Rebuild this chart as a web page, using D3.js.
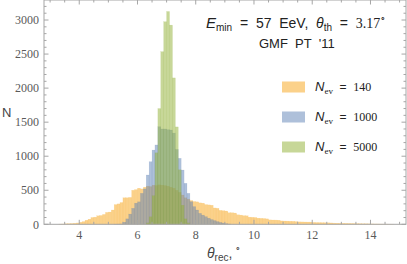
<!DOCTYPE html>
<html>
<head>
<meta charset="utf-8">
<script src="https://cdn.jsdelivr.net/npm/d3@7"></script>
<style>
  body { margin: 0; background: #fff; }
  svg text { white-space: pre; }
</style>
</head>
<body>
<div class="canvas"></div>
<script>
// histogram bins, width 0.1 deg, counts per bin
const binWidth = 0.1;

const orangeStart = 3.3;   // N_ev = 140
const orangeCounts = [3, 5, 8, 10, 12, 15, 20, 30, 40, 60, 75, 100, 105, 125, 130, 145, 175,
  180, 210, 290, 300, 320, 390, 390, 395, 500, 510,
  530, 520, 545, 560, 555, 575, 570, 580, 575, 570,
  560, 545, 530, 500, 470, 430, 390, 370, 350, 335,
  330, 315, 310, 290, 285, 280, 240, 235, 205, 200,
  195, 170, 170, 165, 140, 135, 127, 125, 105, 103,
  100, 90, 88, 85, 80, 65, 63, 62, 60, 50,
  48, 47, 45, 44, 40, 36, 35, 34, 33, 32,
  28, 26, 25, 24, 23, 22, 20, 17, 16, 15,
  15, 14, 13, 12, 11, 10, 9, 8, 8, 7,
  6, 5, 5, 4, 3, 3, 2, 2];

const blueStart = 5.2;     // N_ev = 1000
const blueCounts = [2, 3, 5, 30, 80, 150, 235, 310, 330, 455, 520, 724, 919, 1090, 1165,
  1433, 1400, 1400, 1390, 1385, 1340, 1100, 969, 797, 602, 455, 332, 260, 210, 161,
  135, 112, 90, 70, 55, 40, 28, 18, 10, 5];

const greenStart = 6.3;    // N_ev = 5000
const greenCounts = [20, 110, 420, 1050, 1700, 2535, 2975, 3125, 2925, 2150, 1430, 800, 280, 80, 20];

const seriesNames = ['140', '1000', '5000'];
const seriesColors = ['#f9b23c', '#5e81b5', '#8fb032'];
const seriesOpacity = [0.6, 0.5, 0.5];

const xTicks = [4, 6, 8, 10, 12, 14];
const yTicks = [0, 500, 1000, 1500, 2000, 2500, 3000];

const sans = 'Liberation Sans, Arial, sans-serif';
const serif = 'Liberation Serif, Times New Roman, serif';

const W = 407, H = 264;
const svg = d3.select('.canvas').append('svg')
  .attr('width', W)
  .attr('height', H);

const x = d3.scaleLinear().domain([2.79, 15.22]).range([44, 406]);
const y = d3.scaleLinear().domain([0, 3294]).range([224.3, 0]);

const series = [
  { start: orangeStart, counts: orangeCounts },
  { start: blueStart, counts: blueCounts },
  { start: greenStart, counts: greenCounts }
];

// bars
series.forEach((s, i) => {
  const bins = s.counts.map((c, k) => ({ x0: s.start + k * binWidth, n: c }));
  svg.append('g')
    .selectAll('rect')
    .data(bins)
    .join('rect')
    .attr('x', d => x(d.x0))
    .attr('width', d => x(d.x0 + binWidth) - x(d.x0))
    .attr('y', d => y(d.n))
    .attr('height', d => y(0) - y(d.n))
    .attr('fill', seriesColors[i])
    .attr('fill-opacity', seriesOpacity[i])
    .attr('stroke', seriesColors[i])
    .attr('stroke-opacity', 0.25)
    .attr('stroke-width', 0.4);
});

// frame
const frameCol = '#a6a6a6';
svg.append('rect')
  .attr('x', x.range()[0])
  .attr('y', y.range()[1])
  .attr('width', x.range()[1] - x.range()[0])
  .attr('height', y.range()[0] - y.range()[1])
  .attr('fill', 'none')
  .attr('stroke', frameCol)
  .attr('stroke-width', 1);

// minor ticks
const xMinor = d3.range(3, 15.01, 0.5).filter(v => !xTicks.includes(v));
const yMinor = d3.range(0, 3300, 100).filter(v => v % 500 !== 0);

function tickLines(vals, len, horiz) {
  vals.forEach(v => {
    if (horiz) {
      svg.append('line').attr('x1', x(v)).attr('x2', x(v))
        .attr('y1', y(0)).attr('y2', y(0) - len).attr('stroke', frameCol);
      svg.append('line').attr('x1', x(v)).attr('x2', x(v))
        .attr('y1', 0).attr('y2', len).attr('stroke', frameCol);
    } else {
      svg.append('line').attr('x1', 44).attr('x2', 44 + len)
        .attr('y1', y(v)).attr('y2', y(v)).attr('stroke', frameCol);
      svg.append('line').attr('x1', 406).attr('x2', 406 - len)
        .attr('y1', y(v)).attr('y2', y(v)).attr('stroke', frameCol);
    }
  });
}
tickLines(xTicks, 4.5, true);
tickLines(xMinor, 2.5, true);
tickLines(yTicks, 4.5, false);
tickLines(yMinor, 2.5, false);

// tick labels
svg.append('g').selectAll('text')
  .data(xTicks).join('text')
  .attr('x', d => x(d))
  .attr('y', 238.5)
  .attr('text-anchor', 'middle')
  .attr('font-family', serif)
  .attr('font-size', 12)
  .attr('fill', '#5a5a5a')
  .text(d => d);

svg.append('g').selectAll('text')
  .data(yTicks).join('text')
  .attr('x', 39)
  .attr('y', d => y(d) + 4.2)
  .attr('text-anchor', 'end')
  .attr('font-family', serif)
  .attr('font-size', 12)
  .attr('fill', '#5a5a5a')
  .text(d => d);

// axis labels
svg.append('text')
  .attr('x', 2)
  .attr('y', 117)
  .attr('font-family', sans)
  .attr('font-size', 13)
  .attr('fill', '#444')
  .text('N');

const xl = svg.append('text')
  .attr('x', 207)
  .attr('y', 258)
  .attr('font-family', sans)
  .attr('font-size', 14)
  .attr('fill', '#444');
xl.append('tspan').attr('font-style', 'italic').text('θ');
xl.append('tspan').attr('font-size', 10).attr('dy', 3).text('rec');
xl.append('tspan').attr('dy', -3).text(',');
xl.append('tspan').attr('font-size', 9).attr('dy', -6).attr('dx', 3).text('∘');

// title text
const t1 = svg.append('text')
  .attr('x', 206)
  .attr('y', 28)
  .attr('font-family', sans)
  .attr('font-size', 14)
  .attr('fill', '#222');
t1.append('tspan').attr('font-style', 'italic').attr('font-size', 15).text('E');
t1.append('tspan').attr('font-size', 10).attr('dy', 3).text('min');
t1.append('tspan').attr('dy', -3).text('  =  57  EeV,  ');
t1.append('tspan').attr('font-style', 'italic').text('θ');
t1.append('tspan').attr('font-size', 10).attr('dy', 3).text('th');
t1.append('tspan').attr('dy', -3).text('  =  ');
t1.append('tspan').attr('font-family', serif).text('3.17');
t1.append('tspan').attr('font-size', 9).attr('dy', -6).text('∘');

svg.append('text')
  .attr('x', 259)
  .attr('y', 48)
  .attr('font-family', sans)
  .attr('font-size', 13)
  .attr('fill', '#222')
  .text("GMF  PT  '11");

// legend
const legendY = [87, 117, 147];
seriesNames.forEach((name, i) => {
  svg.append('rect')
    .attr('x', 282)
    .attr('y', legendY[i] - 5.5)
    .attr('width', 23)
    .attr('height', 11)
    .attr('fill', seriesColors[i])
    .attr('fill-opacity', seriesOpacity[i]);
  const lt = svg.append('text')
    .attr('x', 315)
    .attr('y', legendY[i] + 4)
    .attr('font-family', serif)
    .attr('font-size', 12)
    .attr('fill', '#222');
  lt.append('tspan').attr('font-style', 'italic')
    .attr('font-family', sans).attr('font-size', 13).text('N');
  lt.append('tspan').attr('font-size', 9).attr('dy', 3).text('ev');
  lt.append('tspan').attr('dy', -3).attr('font-family', sans).text('  =  ');
  lt.append('tspan').text(name);
});
</script>
</body>
</html>
